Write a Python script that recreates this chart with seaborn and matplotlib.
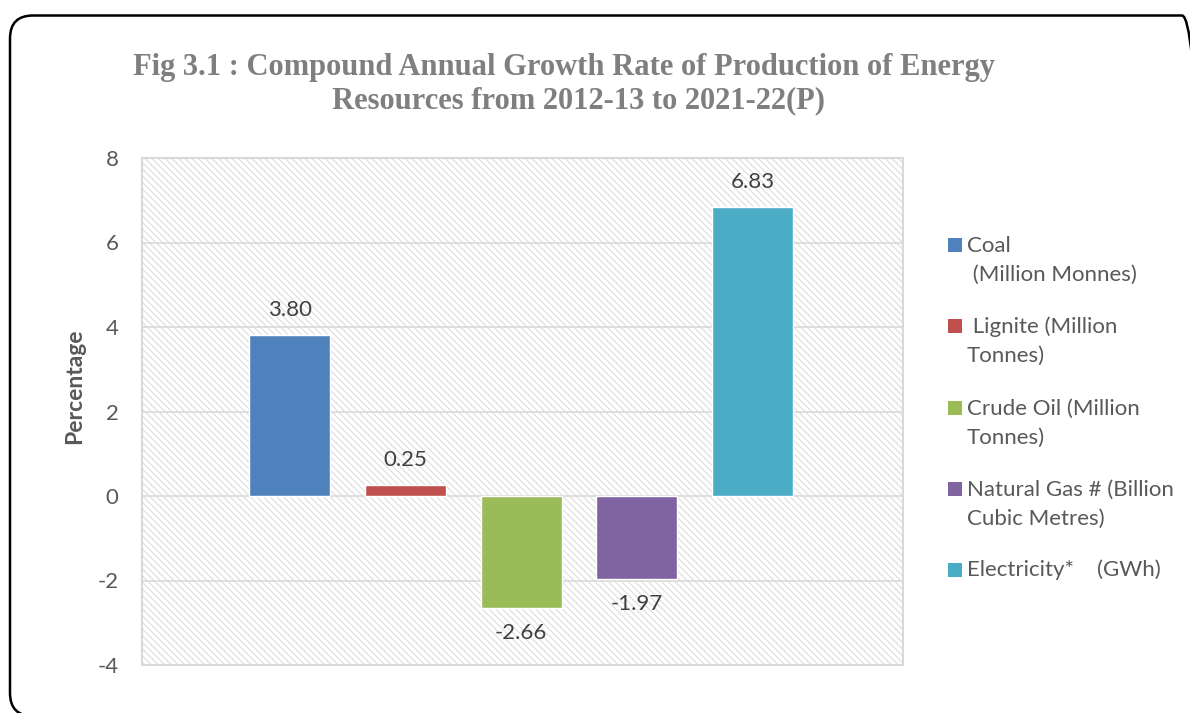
import matplotlib
matplotlib.use("Agg")
import matplotlib.pyplot as plt
import seaborn as sns
import pandas as pd
from matplotlib.patches import FancyBboxPatch, Rectangle
from matplotlib.transforms import IdentityTransform

# ---- data ----
categories = ["Coal", "Lignite", "Crude Oil", "Natural Gas", "Electricity"]
values = [3.80, 0.25, -2.66, -1.97, 6.83]
legend_labels = ["Coal\n (Million Monnes)", " Lignite (Million\nTonnes)",
                 "Crude Oil (Million\nTonnes)", "Natural Gas # (Billion\nCubic Metres)",
                 "Electricity*    (GWh)"]
colors = ["#4F81BD", "#C0504D", "#9BBB59", "#8064A2", "#4BACC6"]
yticks = [-4, -2, 0, 2, 4, 6, 8]
title_line1 = "Fig 3.1 : Compound Annual Growth Rate of Production of Energy"
title_line2 = "Resources from 2012-13 to 2021-22(P)"
ylabel = "Percentage"

W, H = 1190, 713
sns.set_theme(style="white")
plt.rcParams["font.family"] = ["Lato", "DejaVu Sans"]
plt.rcParams["hatch.linewidth"] = 0.7

fig = plt.figure(figsize=(W / 100, H / 100), dpi=100)
def px(x0, y0, x1, y1):
    return [x0 / W, 1 - y1 / H, (x1 - x0) / W, (y1 - y0) / H]

ax = fig.add_axes(px(142, 158, 903, 665))

# hatched background
bg = Rectangle((0, 0), 1, 1, transform=ax.transAxes, facecolor="white",
               edgecolor="#d9d9d9", hatch="\\\\\\\\\\", linewidth=0, zorder=0)
ax.add_patch(bg)

df = pd.DataFrame({"cat": categories, "val": values})
sns.barplot(data=df, x="cat", y="val", hue="cat", palette=colors, width=0.7,
            saturation=1, legend=False, ax=ax, zorder=2)

ax.set_xlim(-1.275, 5.30)
ax.set_ylim(-4, 8)
ax.set_yticks(yticks)
ax.set_yticklabels([str(t) for t in yticks])
ax.set_xticks([])
ax.set_xlabel("")
ax.set_ylabel("")
ax.tick_params(axis="y", length=0, pad=17, labelsize=16, labelcolor="#595959")
ax.set_axisbelow(True)
ax.grid(axis="y", color="#d9d9d9", linewidth=1.2, zorder=1)
for s in ax.spines.values():
    s.set_visible(True)
    s.set_color("#d9d9d9")
    s.set_linewidth(1.5)

for i, v in enumerate(values):
    ax.annotate(f"{v:.2f}", xy=(i, v), xytext=(0, 18 if v >= 0 else -18),
                textcoords="offset points", ha="center", va="center",
                fontsize=16, color="#404040")

# y label
fig.text(75 / W, 1 - 386 / H, ylabel, rotation=90, ha="center", va="center",
         fontsize=16.5, fontweight="bold", color="#595959")

# title
t1 = fig.text(564 / W, 1 - 68 / H, title_line1, ha="center", va="center",
              fontsize=20, fontweight="bold", color="#7f7f7f",
              family=["Liberation Serif", "DejaVu Serif"])
t2 = fig.text(578.5 / W, 1 - 101 / H, title_line2, ha="center", va="center",
              fontsize=20, fontweight="bold", color="#7f7f7f",
              family=["Liberation Serif", "DejaVu Serif"])
fig.canvas.draw()
r = fig.canvas.get_renderer()
w1 = t1.get_window_extent(r).width
scale = 862 / w1
t1.set_fontsize(20 * scale)
t2.set_fontsize(20 * scale)

# legend (manual)
first_line_y = [245, 326, 408, 489, 570]
for lab, col, y in zip(legend_labels, colors, first_line_y):
    fig.patches.append(Rectangle((948 / W, 1 - (y + 7) / H), 14 / W, 14 / H,
                                 transform=fig.transFigure, facecolor=col,
                                 edgecolor="none"))
    nlines = lab.count("\n") + 1
    yc = y + 15 * (nlines - 1)
    fig.text(967 / W, 1 - yc / H, lab, ha="left", va="center", fontsize=16,
             color="#595959", linespacing=1.56)

# rounded border
border = FancyBboxPatch((10, -3), 1195, 700.5,
                        boxstyle="round,pad=0,rounding_size=23",
                        transform=IdentityTransform(), facecolor="none",
                        edgecolor="black", linewidth=1.8)
fig.patches.append(border)

fig.savefig("out.png", dpi=100)
